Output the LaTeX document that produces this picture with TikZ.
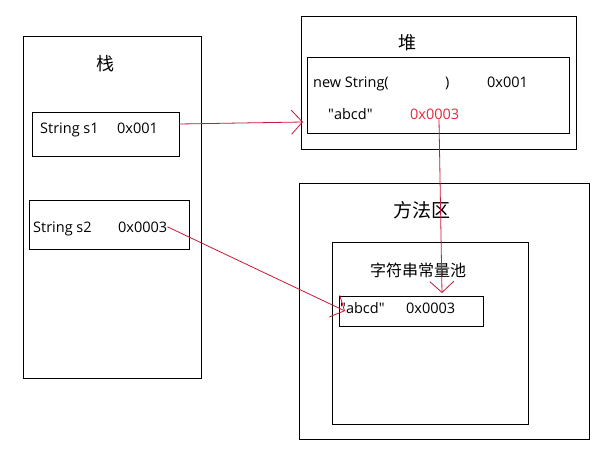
\documentclass[tikz,border=0pt]{standalone}
\usepackage{fontspec}
\setmainfont{Open Sans}
\newfontfamily\cjk{Noto Sans CJK SC}
\usetikzlibrary{arrows.meta}
\definecolor{arr}{RGB}{200,25,60}
\definecolor{redtxt}{RGB}{232,40,60}
\begin{document}
\begin{tikzpicture}[x=1pt,y=-1pt,
  box/.style={draw=black,line width=1pt},
  lat/.style={inner sep=0pt,anchor=base west,font=\fontsize{14.5}{16}\selectfont},
  zh/.style={inner sep=0pt,font=\cjk\fontsize{18}{20}\selectfont},
  conn/.style={draw=arr,line width=0.8pt,-{Straight Barb[length=11pt,width=24pt,line width=0.8pt]}}]
\useasboundingbox[fill=white] (0,0) rectangle (614,453);
% boxes
\draw[box] (23,36) rectangle (201,378);
\draw[box] (32,112) rectangle (179,156);
\draw[box] (29,200) rectangle (189,249);
\draw[box] (301,16) rectangle (576,149);
\draw[box] (307,57) rectangle (569,133);
\draw[box] (299,183) rectangle (589,439);
\draw[box] (332,242) rectangle (528,424);
\draw[box] (339,296) rectangle (483,326);
% labels
\node[zh] (stack) at (105,64) {栈};
\node[zh] (heap) at (407,43) {堆};
\node[zh,font=\cjk\fontsize{19}{21}\selectfont] (method) at (422,210) {方法区};
\node[zh,font=\cjk\fontsize{16}{18}\selectfont] (pool) at (418,270) {字符串常量池};
% stack texts
\node[lat] (s1) at (40,133) {String s1};
\node[lat] (s1a) at (117,133) {0x001};
\node[lat] (s2) at (33,232) {String s2};
\node[lat] (s2a) at (118,232) {0x0003};
% heap texts
\node[lat] (ns) at (313,87) {new String(};
\node[lat] (close) at (445,87) {)};
\node[lat] (h1) at (487,87) {0x001};
\node[lat] (habcd) at (328,119) {\textquotedbl abcd\textquotedbl};
\node[lat,text=redtxt] (hred) at (410,119) {0x0003};
% pool texts
\node[lat] (pabcd) at (340,313) {\textquotedbl abcd\textquotedbl};
\node[lat] (paddr) at (406,313) {0x0003};
% connectors
\coordinate (t1) at (303,122);
\coordinate (t2) at (442,293);
\coordinate (t3) at (345,311);
\draw[conn] (179,124) -- (t1);
\draw[conn] (hred.south -| 439,0) -- (t2);
\draw[conn] (s2a.east) -- (t3);
\end{tikzpicture}
\end{document}
